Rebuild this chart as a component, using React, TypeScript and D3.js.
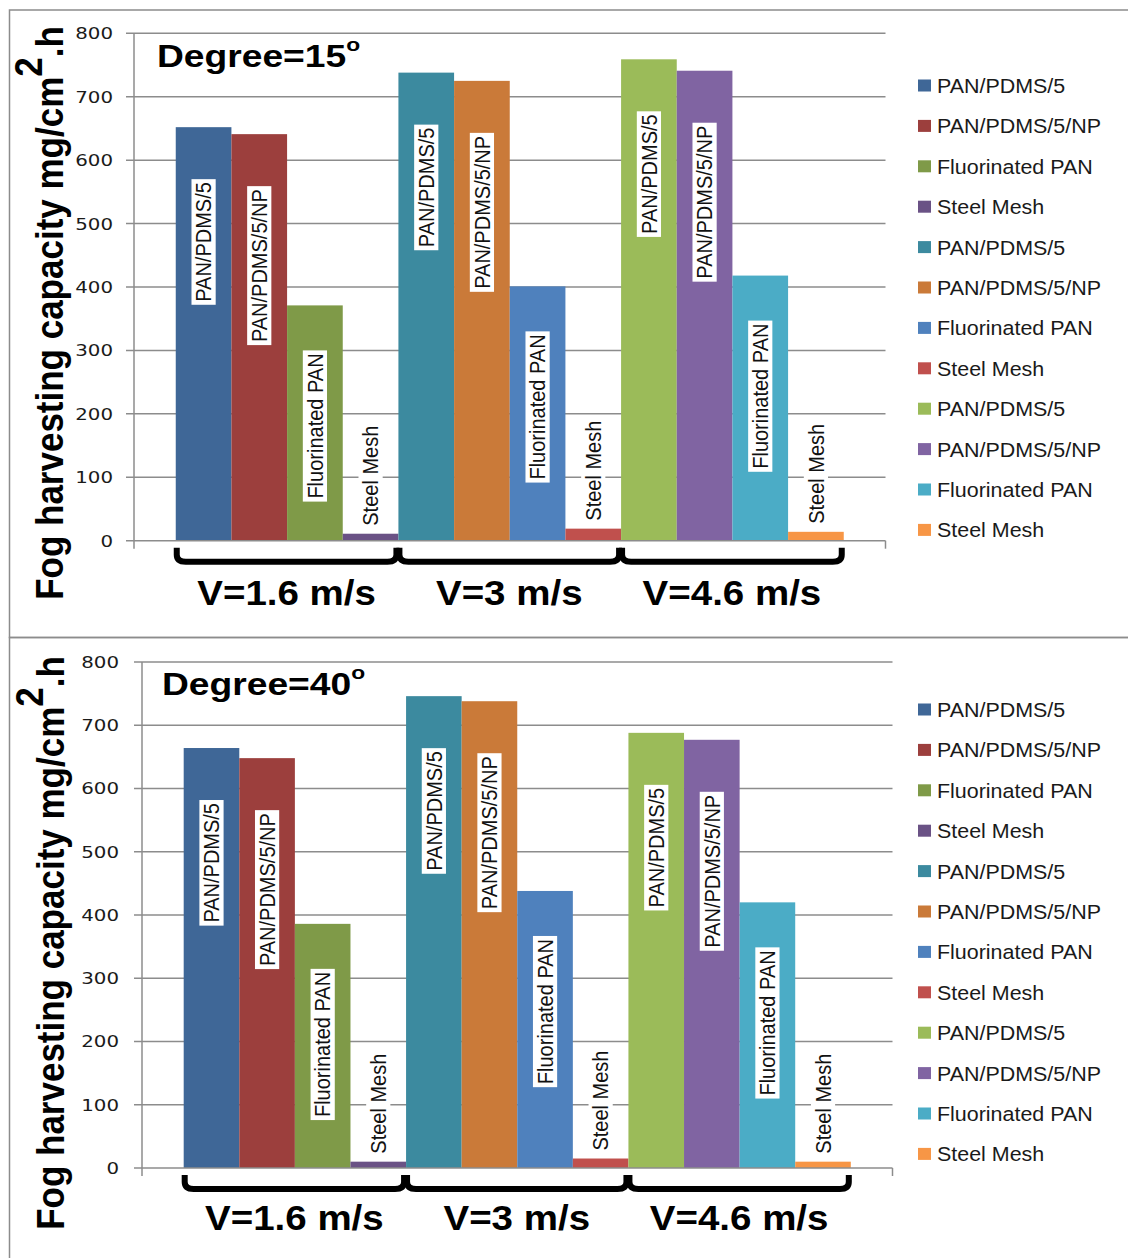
import React, { useEffect, useRef } from 'react';
import * as d3 from 'd3';

// series as they appear in the legend (12 series, one category)
const seriesNames = [
  'PAN/PDMS/5', 'PAN/PDMS/5/NP', 'Fluorinated PAN', 'Steel Mesh',
  'PAN/PDMS/5', 'PAN/PDMS/5/NP', 'Fluorinated PAN', 'Steel Mesh',
  'PAN/PDMS/5', 'PAN/PDMS/5/NP', 'Fluorinated PAN', 'Steel Mesh',
];
const velocities = ['V=1.6 m/s', 'V=3 m/s', 'V=4.6 m/s'];
const deg15Values = [652, 641, 371, 11, 738, 725, 401, 19, 759, 741, 418, 14];
const deg40Values = [664, 648, 386, 10, 746, 738, 438, 15, 688, 677, 420, 10];
const yTicks = [0, 100, 200, 300, 400, 500, 600, 700, 800];
const seriesColors = [
  '#3F6797', '#9C3F3D', '#7F9A48', '#6A5285', '#3C8A9F', '#CA7A39',
  '#4F81BD', '#C0504D', '#9BBB59', '#8064A2', '#4BACC6', '#F79646',
];

const FONT = '"Liberation Sans", Arial, sans-serif';
const TICK_FONT = '"DejaVu Sans", Verdana, sans-serif';
const SX = 1.1; // the source picture is a little wider than tall
const GRID = '#8c8c8c';

interface Layout {
  left: number; right: number; top: number; bottom: number;
  legendY0: number; titleX: number; titleY: number;
  yTitleX: number; yTitleY: number; tickRight: number; vBaseline: number;
}

const panels: { degree: string; values: number[]; layout: Layout }[] = [
  {
    degree: '15', values: deg15Values,
    layout: { left: 134, right: 885.5, top: 33.3, bottom: 540.7, legendY0: 86, titleX: 157, titleY: 66.7,
      yTitleX: 63, yTitleY: 313, tickRight: 113, vBaseline: 605 },
  },
  {
    degree: '40', values: deg40Values,
    layout: { left: 142, right: 892.5, top: 662, bottom: 1168, legendY0: 710, titleX: 162, titleY: 695,
      yTitleX: 64, yTitleY: 943, tickRight: 119, vBaseline: 1230 },
  },
];

function drawPanel(svg: d3.Selection<SVGSVGElement, unknown, null, undefined>, degree: string, values: number[], L: Layout) {
  const idx = values.map((_, i) => i);
  const x = d3.scaleBand<number>().domain(idx).range([L.left, L.right]).paddingInner(0).paddingOuter(0.75);
  const y = d3.scaleLinear().domain([0, 800]).range([L.bottom, L.top]);

  // gridlines + left ticks
  svg.append('g').selectAll('line').data(yTicks.filter(t => t > 0)).enter().append('line')
    .attr('x1', L.left - 8).attr('x2', L.right)
    .attr('y1', d => y(d)).attr('y2', d => y(d))
    .attr('stroke', GRID).attr('stroke-width', 1.5);

  // value axis
  svg.append('line').attr('x1', L.left).attr('x2', L.left).attr('y1', L.top).attr('y2', L.bottom + 8)
    .attr('stroke', GRID).attr('stroke-width', 1.5);

  // tick labels
  yTicks.forEach(t => {
    svg.append('text')
      .attr('transform', `translate(${L.tickRight},${y(t)}) scale(1.2,1)`)
      .attr('dy', '0.36em')
      .attr('text-anchor', 'end')
      .attr('font-family', TICK_FONT).attr('font-size', 16.5).attr('fill', '#1a1a1a')
      .text(t);
  });

  // bars
  svg.append('g').selectAll('rect').data(values).enter().append('rect')
    .attr('x', (_, i) => x(i)!)
    .attr('width', x.bandwidth())
    .attr('y', d => y(d))
    .attr('height', d => L.bottom - y(d))
    .attr('fill', (_, i) => seriesColors[i]);

  // category axis
  svg.append('line').attr('x1', L.left - 8).attr('x2', L.right).attr('y1', L.bottom).attr('y2', L.bottom)
    .attr('stroke', GRID).attr('stroke-width', 1.5);
  svg.append('line').attr('x1', L.right).attr('x2', L.right).attr('y1', L.bottom).attr('y2', L.bottom + 8)
    .attr('stroke', GRID).attr('stroke-width', 1.5);

  // rotated labels in / above the bars
  values.forEach((v, i) => {
    const kind = i % 4;
    const cx = x(i)! + x.bandwidth() / 2;
    const top = y(v);
    const anchorY = kind === 3 ? top - 5 : top + (kind === 2 ? 45 : 52);
    const g = svg.append('g').attr('transform', `translate(${cx},${anchorY}) scale(${SX},1) rotate(-90)`);
    const rect = g.append('rect').attr('fill', '#fff');
    const txt = g.append('text')
      .attr('font-family', FONT).attr('font-size', 20).attr('fill', '#111')
      .attr('dy', '0.35em')
      .attr('x', kind === 3 ? 3 : -3)
      .attr('text-anchor', kind === 3 ? 'start' : 'end')
      .text(seriesNames[i]);
    const len = (txt.node() as SVGTextElement).getComputedTextLength();
    rect.attr('x', kind === 3 ? 0 : -len - 6).attr('width', len + 6).attr('y', -11).attr('height', 22);
  });

  // braces + velocity labels
  velocities.forEach((lab, k) => {
    const x0 = x(k * 4)! + 1;
    const x1 = x(k * 4 + 3)! + x.bandwidth() - 2;
    const yt = L.bottom + 7;
    const yh = L.bottom + 21;
    svg.append('path')
      .attr('d', `M${x0},${yt} L${x0},${yh - 7} Q${x0},${yh} ${x0 + 9},${yh} L${x1 - 9},${yh} Q${x1},${yh} ${x1},${yh - 7} L${x1},${yt}`)
      .attr('fill', 'none').attr('stroke', '#000').attr('stroke-width', 6);
    svg.append('text')
      .attr('transform', `translate(${(x0 + x1) / 2},${L.vBaseline}) scale(${SX},1)`)
      .attr('text-anchor', 'middle')
      .attr('font-family', FONT).attr('font-weight', 'bold').attr('font-size', 35).attr('fill', '#000')
      .text(lab);
  });

  // panel title
  const title = svg.append('text')
    .attr('transform', `translate(${L.titleX},${L.titleY}) scale(1.2,1)`)
    .attr('font-family', FONT).attr('font-weight', 'bold').attr('font-size', 31).attr('fill', '#000');
  title.append('tspan').text(`Degree=${degree}`);
  title.append('tspan').attr('font-size', 19).attr('dy', -16).text('o');

  // y title
  const yt = svg.append('text')
    .attr('transform', `translate(${L.yTitleX},${L.yTitleY}) scale(${SX},1) rotate(-90)`)
    .attr('text-anchor', 'middle')
    .attr('font-family', FONT).attr('font-weight', 'bold').attr('font-size', 35).attr('fill', '#000');
  yt.append('tspan').text('Fog harvesting capacity mg/cm');
  yt.append('tspan').attr('dy', -19).text('2');
  yt.append('tspan').attr('dy', 19).text('.h');

  // legend
  seriesNames.forEach((name, i) => {
    const cy = L.legendY0 + i * 40.4;
    svg.append('rect').attr('x', 918).attr('y', cy - 6.5).attr('width', 13).attr('height', 12)
      .attr('fill', seriesColors[i]);
    svg.append('text')
      .attr('transform', `translate(937,${cy + 7}) scale(${SX},1)`)
      .attr('font-family', FONT).attr('font-size', 19.5).attr('fill', '#1a1a1a')
      .text(name);
  });
}

const App: React.FC = () => {
  const svgRef = useRef<SVGSVGElement>(null);

  useEffect(() => {
    if (!svgRef.current) return;
    const svg = d3.select(svgRef.current);
    svg.selectAll('*').remove();

    svg.append('rect').attr('width', 1128).attr('height', 1258).attr('fill', '#fff');

    // chart area frames
    svg.append('rect').attr('x', 9.5).attr('y', 10).attr('width', 1130).attr('height', 627.5)
      .attr('fill', 'none').attr('stroke', '#8c8c8c').attr('stroke-width', 1.5);
    svg.append('rect').attr('x', 9.5).attr('y', 637.5).attr('width', 1130).attr('height', 640)
      .attr('fill', 'none').attr('stroke', '#8c8c8c').attr('stroke-width', 1.5);

    panels.forEach(p => drawPanel(svg, p.degree, p.values, p.layout));
  }, []);

  return (
    <svg ref={svgRef} width={1128} height={1258}
      style={{ position: 'absolute', left: 0, top: 0, display: 'block' }} />
  );
};

export default App;
